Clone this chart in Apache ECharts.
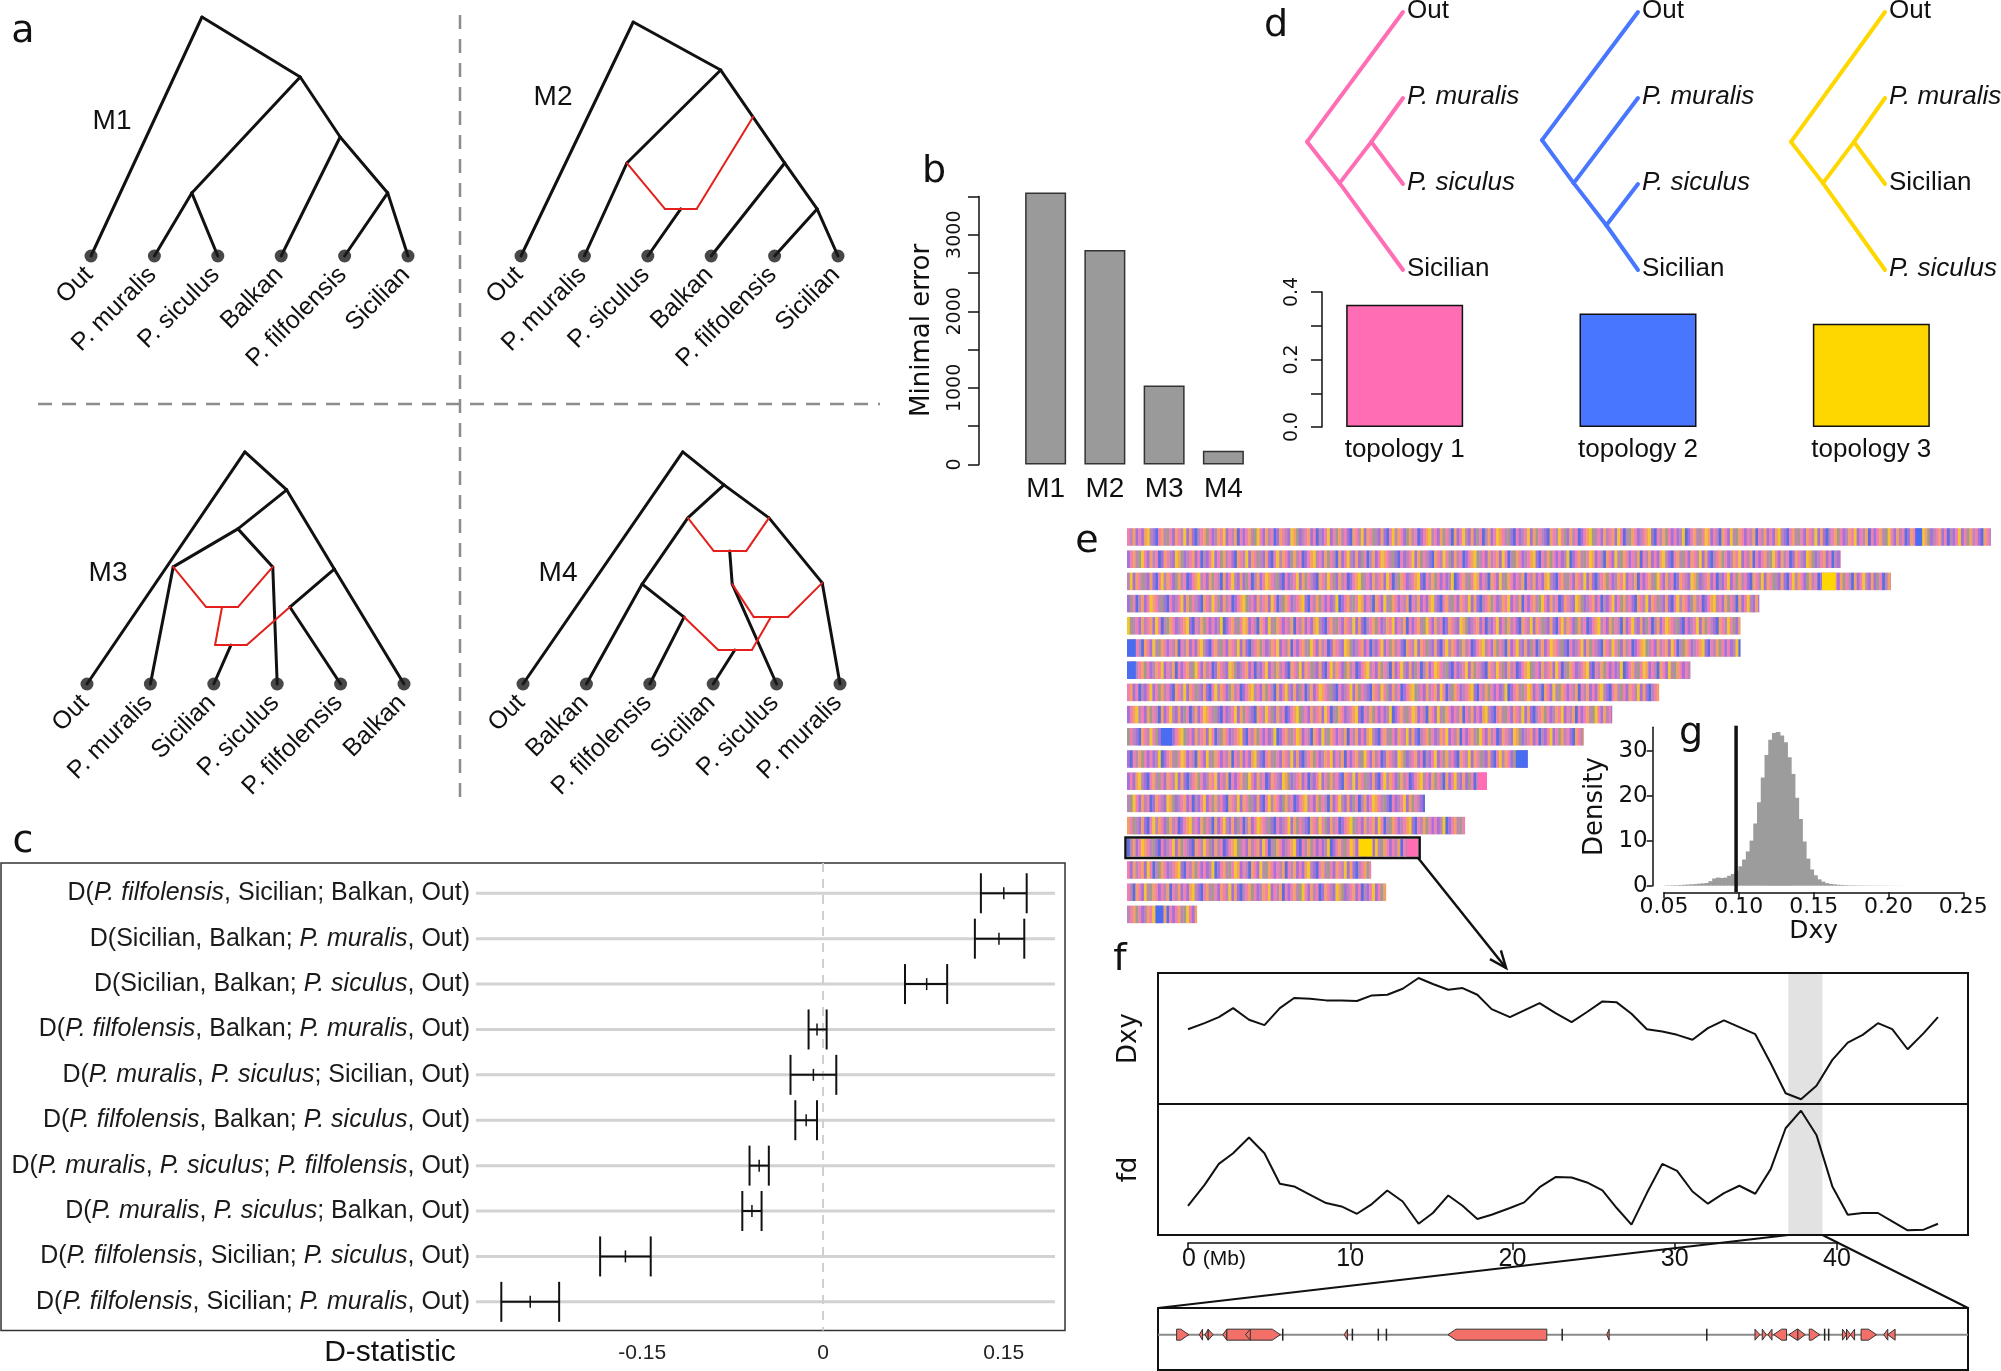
<!DOCTYPE html>
<html><head><meta charset="utf-8">
<script src="https://cdn.jsdelivr.net/npm/echarts@6/dist/echarts.min.js"></script>
<style>html,body{margin:0;padding:0;background:#fff}#c{width:2001px;height:1371px}</style>
</head><body><div id="c"></div>
<script>
// ================= DATA =================
// panel a : four admixture graphs (tips at x = index, y = 0 ; nodes [x, height])
const m1Tips = ['Out','P. muralis','P. siculus','Balkan','P. filfolensis','Sicilian'];
const m1Nodes = {r:[1.75,1.0],A:[3.30,0.749],B:[1.59,0.264],C:[3.93,0.498],D:[4.68,0.264]};
const m1Black = [['r',0],['r','A'],['A','B'],['B',1],['B',2],['A','C'],['C',3],['C','D'],['D',4],['D',5]];
const m1Red = [];

const m2Tips = ['Out','P. muralis','P. siculus','Balkan','P. filfolensis','Sicilian'];
const m2Nodes = {r:[1.77,0.979],A:[3.15,0.778],B:[1.67,0.389],R:[3.66,0.582],C:[4.16,0.389],D:[4.67,0.197],Hl:[2.27,0.197],Hr:[2.77,0.197],Hm:[2.52,0.197]};
const m2Black = [['r',0],['r','A'],['A','B'],['B',1],['A','C'],['C',3],['C','D'],['D',4],['D',5],['Hm',2]];
const m2Red = [['B','Hl'],['Hl','Hr'],['Hr','R']];

const m3Tips = ['Out','P. muralis','Sicilian','P. siculus','P. filfolensis','Balkan'];
const m3Nodes = {r:[2.49,0.971],A:[3.15,0.812],B:[2.38,0.649],P:[1.36,0.490],Q:[2.93,0.490],H1l:[1.88,0.322],H1r:[2.38,0.322],H1m:[2.13,0.322],H2l:[2.02,0.163],H2r:[2.52,0.163],H2m:[2.27,0.163],S:[3.90,0.481],R:[3.20,0.322]};
const m3Black = [['r',0],['r','A'],['A','B'],['B','P'],['B','Q'],['P',1],['Q',3],['A','S'],['S',5],['S','R'],['R',4],['H2m',2]];
const m3Red = [['P','H1l'],['Q','H1r'],['H1l','H1r'],['H1m','H2l'],['H2l','H2r'],['H2r','R']];

const m4Tips = ['Out','Balkan','P. filfolensis','Sicilian','P. siculus','P. muralis'];
const m4Nodes = {r:[2.52,0.971],A:[3.17,0.833],B:[2.60,0.695],C:[3.88,0.695],H1l:[3.01,0.556],H1r:[3.52,0.556],H1m:[3.26,0.556],E:[3.30,0.418],H2l:[3.64,0.280],H2r:[4.18,0.280],H2m:[3.91,0.280],Hn:[4.72,0.423],F:[1.88,0.418],G:[2.54,0.280],H3l:[3.08,0.142],H3r:[3.61,0.142],H3m:[3.34,0.142]};
const m4Black = [['r',0],['r','A'],['A','B'],['A','C'],['B','F'],['F',1],['F','G'],['G',2],['H1m','E'],['E',4],['C','Hn'],['Hn',5],['H3m',3]];
const m4Red = [['B','H1l'],['H1l','H1r'],['H1r','C'],['E','H2l'],['H2l','H2r'],['H2r','Hn'],['H2m','H3r'],['H3l','H3r'],['G','H3l']];

const modelNames = ['M1','M2','M3','M4'];

// panel b
const bCats = ['M1','M2','M3','M4'];
const bVals = [3550, 2800, 1030, 180];

// panel c
const cLabels = [
 'D({i|P. filfolensis}, Sicilian; Balkan, Out)',
 'D(Sicilian, Balkan; {i|P. muralis}, Out)',
 'D(Sicilian, Balkan; {i|P. siculus}, Out)',
 'D({i|P. filfolensis}, Balkan; {i|P. muralis}, Out)',
 'D({i|P. muralis}, {i|P. siculus}; Sicilian, Out)',
 'D({i|P. filfolensis}, Balkan; {i|P. siculus}, Out)',
 'D({i|P. muralis}, {i|P. siculus}; {i|P. filfolensis}, Out)',
 'D({i|P. muralis}, {i|P. siculus}; Balkan, Out)',
 'D({i|P. filfolensis}, Sicilian; {i|P. siculus}, Out)',
 'D({i|P. filfolensis}, Sicilian; {i|P. muralis}, Out)'
];
const cMean = [0.150, 0.146, 0.086, -0.005, -0.008, -0.014, -0.053, -0.059, -0.164, -0.243];
const cLo   = [0.131, 0.126, 0.068, -0.012, -0.027, -0.023, -0.061, -0.067, -0.185, -0.267];
const cHi   = [0.169, 0.167, 0.103,  0.003,  0.011, -0.005, -0.045, -0.051, -0.143, -0.219];
const cTicks = [-0.15, 0, 0.15];

// panel d
const dCats = ['topology 1','topology 2','topology 3'];
const dVals = [0.362, 0.336, 0.306];
const dColors = ['#ff6eb4','#4876ff','#ffd700'];
const d1Tips = ['Out','P. muralis','P. siculus','Sicilian'];
const d1Nodes = {r:[0,1.51],N1:[0.34,1.99],N2:[0.67,1.51]};
const d1Edges = [['r',0],['r','N1'],['N1',3],['N1','N2'],['N2',1],['N2',2]];
const d2Tips = ['Out','P. muralis','P. siculus','Sicilian'];
const d2Nodes = {r:[0,1.49],N1:[0.33,1.99],N2:[0.67,2.48]};
const d2Edges = [['r',0],['r','N1'],['N1',1],['N1','N2'],['N2',2],['N2',3]];
const d3Tips = ['Out','P. muralis','Sicilian','P. siculus'];
const d3Nodes = {r:[0,1.51],N1:[0.34,1.99],N2:[0.67,1.51]};
const d3Edges = [['r',0],['r','N1'],['N1',3],['N1','N2'],['N2',1],['N2',2]];

// panel e : chromosome lengths (Mb), topology stripe code sequence, solid blocks
const eLengths = [138,114,122,101,98,98,90,85,77.5,73,64,57.5,47.6,54,46.5,39,41.4,11.2];
const eSeq = 'PMOVPVOYMVBPOMGPVOPMYVOVBMPOGPVMOPYVPMOBPVPOMGYPVOMPBVOPMVYOGVMPOVPBMVPYVPGOMPVBOPMYVOPGMVOVBPYMOPVGOMPBVPOYMPVOGPMBOVPYMVOVGPBMOVPYOPMGVBPVMPYVOGPMVBOPMYPGVOMPBVPOYGMPVOMPOVYPBMGOPVMPOYVBPMOGPVPVMYBVPOMGPYOVPMBOPVYMGOPVPMOB';
const eColors = {P:'#f07fb2',O:'#f2a066',V:'#a472d8',M:'#bb86b8',B:'#5a6ee2',Y:'#f2c62e',G:'#a39a8c'};
const eBlocks = [[0,125.9,127.0,'B'],[2,111.0,113.2,'Y'],[5,0,1.4,'B'],[6,0,1.4,'B'],[9,5.4,7.2,'B'],[10,62.1,64.0,'B'],[11,56.0,57.5,'P'],[14,37.0,39.2,'Y'],[14,44.7,46.5,'P'],[17,4.6,5.8,'B']];
const eBlockColors = {Y:'#ffd700',P:'#ff6eb4',B:'#4a6cf0'};
const eHighlight = 14;
const eWin = 0.45;

// panel f
const fPos = [0,1.02,1.90,2.78,3.76,4.71,5.66,6.54,7.53,8.51,9.46,10.41,11.33,12.28,13.23,14.21,15.09,16.04,16.92,17.83,18.71,19.84,20.72,21.67,22.65,23.64,24.59,25.54,26.42,27.33,28.28,29.23,30.14,31.09,32.04,33.03,33.98,34.96,35.91,36.83,37.78,38.73,39.71,40.66,41.58,42.52,43.40,44.35,45.34,46.22];
const dxyVals = [0.571,0.617,0.663,0.732,0.643,0.602,0.732,0.809,0.804,0.791,0.791,0.786,0.829,0.834,0.880,0.962,0.916,0.872,0.885,0.834,0.724,0.663,0.714,0.770,0.694,0.625,0.702,0.783,0.776,0.689,0.571,0.554,0.528,0.490,0.579,0.638,0.587,0.533,0.311,0.082,0.036,0.140,0.337,0.469,0.528,0.617,0.571,0.418,0.541,0.663];
const fdVals = [0.223,0.383,0.543,0.624,0.744,0.624,0.391,0.371,0.307,0.244,0.218,0.162,0.236,0.340,0.256,0.086,0.168,0.302,0.223,0.122,0.155,0.206,0.249,0.365,0.442,0.439,0.401,0.340,0.206,0.079,0.320,0.543,0.490,0.332,0.239,0.320,0.376,0.315,0.503,0.815,0.949,0.764,0.371,0.155,0.168,0.168,0.104,0.036,0.041,0.086];
const fBand = [37.0, 39.1];
// genes in the zoomed window (relative position 0-100): [start, end, strand]
const genes = [[2.3,3.8,1],[5.1,5.5,-1],[5.8,6.2,-1],[6.2,6.8,1],[8.0,8.5,-1],[8.5,15.1,1],[10.8,11.4,-1],[15.4,15.7,0],[23.0,23.4,-1],[24.0,24.2,0],[27.2,27.35,0],[28.2,28.35,0],[35.8,48.0,-1],[49.9,50.05,0],[55.4,55.7,-1],[67.75,67.9,0],[73.7,74.3,1],[74.6,75.1,1],[75.3,75.8,-1],[76.0,77.6,-1],[77.9,79.0,-1],[79.0,79.9,1],[80.4,81.7,1],[82.3,82.5,0],[82.8,83.0,0],[84.5,85.0,1],[85.0,85.5,1],[85.5,86.0,-1],[86.8,88.7,1],[89.6,90.1,-1],[90.1,91.0,-1]];

// panel g : Dxy density histogram (bins of 0.0025 starting at 0.05)
const gBinLeft = 0.05, gBinW = 0.0025;
const gDensity = [0.05,0.07,0.1,0.1,0.15,0.2,0.25,0.3,0.35,0.45,
  0.5,0.6,1.0,1.6,1.8,1.7,1.8,2.2,2.6,3.3,
  4.3,5.8,7.6,10.0,13.8,18.5,24,29,32.4,33.9,
  34.1,33.3,31.8,28.5,24.8,19.5,14.8,9.8,6.0,3.6,
  2.3,1.4,0.9,0.55,0.4,0.3,0.22,0.16,0.12,0.1,
  0.08,0.07,0.06,0.05,0.05,0.04,0.04,0.03,0.03,0.03,
  0.02,0.02,0.02,0.01,0.01];
const gLine = 0.0985;
const gYTicks = [0,10,20,30];

// ================= BUILD =================
const FONT = 'Liberation Sans, Arial, sans-serif';
const DV = 'DejaVu Sans, Verdana, sans-serif';
const INK = '#111';
const grids = [], xAxes = [], yAxes = [], series = [];
function addGrid(g, xa, ya){
  const gi = grids.length;
  grids.push(Object.assign({containLabel:false}, g));
  xAxes.push(Object.assign({gridIndex:gi}, xa));
  yAxes.push(Object.assign({gridIndex:gi}, ya));
  return gi;
}
function hv(min, max, extra){ return Object.assign({type:'value', min:min, max:max, show:false}, extra||{}); }

function buildTree(gi, nodes, black, red, tipAt, opt){
  const P = k => (typeof k === 'number') ? tipAt(k) : nodes[k];
  const segs = [];
  black.forEach(e => { const p = P(e[0]), q = P(e[1]); segs.push([p[0],p[1],q[0],q[1],0]); });
  red.forEach(e => { const p = P(e[0]), q = P(e[1]); segs.push([p[0],p[1],q[0],q[1],1]); });
  series.push({type:'custom', xAxisIndex:gi, yAxisIndex:gi, data:segs, encode:{x:[0,2], y:[1,3]}, silent:true, z:2,
    renderItem:(params, api) => {
      const a = api.coord([api.value(0), api.value(1)]), b = api.coord([api.value(2), api.value(3)]);
      const isRed = api.value(4) === 1;
      return {type:'line', shape:{x1:a[0],y1:a[1],x2:b[0],y2:b[1]},
        style:{stroke:isRed ? opt.red : opt.color, lineWidth:isRed ? opt.redWidth : opt.width, lineCap:'round', lineJoin:'round'}};
    }});
}
function tipLabels(gi, tips, tipAt, opt){
  series.push({type:'custom', xAxisIndex:gi, yAxisIndex:gi, silent:true, z:4,
    data: tips.map((t,i) => { const p = tipAt(i); return [p[0], p[1], i]; }),
    renderItem:(params, api) => {
      const i = api.value(2), p = api.coord([api.value(0), api.value(1)]), name = tips[i];
      return {type:'text', x:p[0]+opt.dx, y:p[1]+opt.dy, rotation:opt.rot,
        style:{text:name, fontFamily:FONT, fontSize:opt.size, fontStyle:(opt.italic && name.indexOf('P.')===0) ? 'italic' : 'normal',
          align:opt.align, verticalAlign:'middle', fill:INK}};
    }});
}

// ---- panel a
const aLayout = [[91,17],[521,17],[87,445],[523,445]];
const aTrees = [[m1Tips,m1Nodes,m1Black,m1Red],[m2Tips,m2Nodes,m2Black,m2Red],[m3Tips,m3Nodes,m3Black,m3Red],[m4Tips,m4Nodes,m4Black,m4Red]];
aTrees.forEach((t, k) => {
  const gi = addGrid({left:aLayout[k][0], top:aLayout[k][1], width:317, height:239}, hv(0,5), hv(0,1));
  const tipAt = i => [i, 0];
  buildTree(gi, t[1], t[2], t[3], tipAt, {color:INK, red:'#e3201b', width:3, redWidth:2});
  series.push({type:'scatter', xAxisIndex:gi, yAxisIndex:gi, data:t[0].map((n,i)=>tipAt(i)), symbol:'circle', symbolSize:13, itemStyle:{color:'#1a1a1a'}, silent:true, z:3});
  tipLabels(gi, t[0], tipAt, {dx:-2, dy:15, rot:Math.PI/4, size:25, align:'right', italic:false});
});

// ---- panel b
const gB = addGrid({left:1016, top:196.4, width:237, height:268.1},
  {type:'category', data:bCats, axisLine:{show:false}, axisTick:{show:false}, axisLabel:{fontFamily:FONT, fontSize:28, color:INK, margin:11}},
  {type:'value', min:0, max:3500, interval:500, offset:37, splitLine:{show:false},
   axisLine:{show:true, lineStyle:{color:INK, width:1.5}}, axisTick:{show:true, length:11, lineStyle:{color:INK, width:1.5}},
   axisLabel:{rotate:90, fontFamily:DV, fontSize:19, color:INK, margin:14, formatter:v => (v % 1000 === 0 ? String(v) : '')},
   name:'Minimal error', nameLocation:'middle', nameGap:44, nameTextStyle:{fontFamily:DV, fontSize:26, color:INK}});
series.push({type:'bar', xAxisIndex:gB, yAxisIndex:gB, data:bVals, barWidth:41, clip:false, silent:true,
  itemStyle:{color:'#9a9a9a', borderColor:'#333', borderWidth:1.5}});

// ---- panel d bars
const gDb = addGrid({left:1288, top:292, width:700, height:135},
  {type:'category', data:dCats, axisLine:{show:false}, axisTick:{show:false}, axisLabel:{fontFamily:FONT, fontSize:26, color:INK, margin:10}},
  {type:'value', min:0, max:0.4, interval:0.1, offset:-34, splitLine:{show:false},
   axisLine:{show:true, lineStyle:{color:INK, width:1.5}}, axisTick:{show:true, length:11, lineStyle:{color:INK, width:1.5}},
   axisLabel:{rotate:90, fontFamily:DV, fontSize:19, color:INK, margin:20, formatter:v => (Math.round(v*10) % 2 === 0 ? v.toFixed(1) : '')}});
series.push({type:'bar', xAxisIndex:gDb, yAxisIndex:gDb, barWidth:117, silent:true,
  data:dVals.map((v,i) => ({value:v, itemStyle:{color:dColors[i], borderColor:'#111', borderWidth:1.5}}))});

// ---- panel d trees
const dLayout = [[1307,96],[1542,96],[1791,94]];
[[d1Tips,d1Nodes,d1Edges],[d2Tips,d2Nodes,d2Edges],[d3Tips,d3Nodes,d3Edges]].forEach((t,k) => {
  const gi = addGrid({left:dLayout[k][0], top:12, width:dLayout[k][1], height:258}, hv(0,1), hv(0,3,{inverse:true}));
  const tipAt = i => [1, i];
  buildTree(gi, t[1], t[2], [], tipAt, {color:dColors[k], red:dColors[k], width:4, redWidth:4});
  tipLabels(gi, t[0], tipAt, {dx:4, dy:-1, rot:0, size:26, align:'left', italic:true});
});

// ---- panel c
addGrid({left:1, top:863, width:1064, height:467.5, show:true, borderColor:'#333', borderWidth:1.5}, hv(0,1), hv(0,1));
const cRows = cLabels.map((l,i) => i+1);
const gC = addGrid({left:476, top:863, width:579, height:467.5},
  {type:'value', min:-0.288, max:0.1925, axisLine:{show:false}, axisTick:{show:false}, splitLine:{show:false},
   axisLabel:{customValues:cTicks, fontFamily:FONT, fontSize:21, color:'#222', margin:12, formatter:v => (v === 0 ? '0' : v.toFixed(2))}},
  {type:'value', min:0.333, max:10.632, inverse:true, axisLine:{show:false}, axisTick:{show:false}, splitLine:{show:false},
   axisLabel:{customValues:cRows, fontFamily:FONT, fontSize:25, color:'#1a1a1a', margin:6,
     formatter:v => cLabels[Math.round(v)-1] || '',
     rich:{i:{fontFamily:FONT, fontSize:25, fontStyle:'italic', color:'#1a1a1a'}}}});
series.push({type:'custom', xAxisIndex:gC, yAxisIndex:gC, silent:true, z:1, data:cRows.map(r => [0, r]),
  renderItem:(params, api) => { const cs = params.coordSys; const y = api.coord([0, api.value(1)])[1];
    return {type:'line', shape:{x1:cs.x, y1:y, x2:cs.x+cs.width, y2:y}, style:{stroke:'#d2d2d2', lineWidth:3}}; }});
series.push({type:'custom', xAxisIndex:gC, yAxisIndex:gC, silent:true, z:1, data:[[0, 1]],
  renderItem:(params, api) => { const cs = params.coordSys; const x = api.coord([api.value(0), 1])[0];
    return {type:'line', shape:{x1:x, y1:cs.y, x2:x, y2:cs.y+cs.height}, style:{stroke:'#cfcfcf', lineWidth:2, lineDash:[9,7]}}; }});
series.push({type:'custom', xAxisIndex:gC, yAxisIndex:gC, silent:true, z:3,
  data:cRows.map((r,i) => [cMean[i], r, cLo[i], cHi[i]]),
  renderItem:(params, api) => {
    const r = api.value(1);
    const m = api.coord([api.value(0), r]), lo = api.coord([api.value(2), r]), hi = api.coord([api.value(3), r]);
    const y = m[1], st = {stroke:INK, lineWidth:2};
    return {type:'group', children:[
      {type:'line', shape:{x1:lo[0], y1:y, x2:hi[0], y2:y}, style:st},
      {type:'line', shape:{x1:lo[0], y1:y-20, x2:lo[0], y2:y+20}, style:st},
      {type:'line', shape:{x1:hi[0], y1:y-20, x2:hi[0], y2:y+20}, style:st},
      {type:'line', shape:{x1:m[0], y1:y-6, x2:m[0], y2:y+6}, style:{stroke:INK, lineWidth:1.5}}
    ]};
  }});

// ---- panel e
const gE = addGrid({left:1127, top:525.9, width:864, height:399.6}, hv(0,138),
  {type:'category', data:eLengths.map((l,i) => i), inverse:true, show:false});
series.push({type:'custom', xAxisIndex:gE, yAxisIndex:gE, silent:true, z:2,
  data:eLengths.map((L,i) => [L, i]),
  renderItem:(params, api) => {
    const L = api.value(0), i = api.value(1);
    const c0 = api.coord([0, i]); const h = api.size([0, 1])[1] * 0.79; const y0 = c0[1] - h/2;
    const children = []; const n = eSeq.length, off = i * 41; const nw = Math.ceil(L / eWin);
    let runStart = 0, runCol = null;
    for (let j = 0; j <= nw; j++) {
      const col = j < nw ? eColors[eSeq[(j + off) % n]] : null;
      if (col !== runCol) {
        if (runCol !== null) {
          const xa = api.coord([runStart * eWin, i])[0], xb = api.coord([Math.min(j * eWin, L), i])[0];
          children.push({type:'rect', shape:{x:xa, y:y0, width:xb - xa + (j < nw ? 0.4 : 0), height:h}, style:{fill:runCol}});
        }
        runStart = j; runCol = col;
      }
    }
    eBlocks.forEach(b => { if (b[0] === i) {
      const xa = api.coord([b[1], i])[0], xb = api.coord([b[2], i])[0];
      children.push({type:'rect', shape:{x:xa, y:y0, width:xb - xa, height:h}, style:{fill:eBlockColors[b[3]]}});
    }});
    if (i === eHighlight) {
      const xb = api.coord([L, i])[0];
      children.push({type:'rect', shape:{x:c0[0]-1.5, y:y0-1.5, width:xb - c0[0] + 3, height:h + 3}, style:{fill:'none', stroke:INK, lineWidth:2.5}});
    }
    return {type:'group', children:children};
  }});

// ---- panel f
const fAxisY = name => ({type:'value', min:0, max:1, name:name, nameLocation:'middle', nameGap:16,
  nameTextStyle:{fontFamily:DV, fontSize:26, color:INK}, axisLine:{show:false}, axisTick:{show:false}, axisLabel:{show:false}, splitLine:{show:false}});
const gDxy = addGrid({left:1158, top:973, width:810, height:131, show:true, borderColor:INK, borderWidth:2}, hv(-1.85, 48.07), fAxisY('Dxy'));
const gFd = addGrid({left:1158, top:1104, width:810, height:131, show:true, borderColor:INK, borderWidth:2}, hv(-1.85, 48.07), fAxisY('fd'));
[[gDxy, dxyVals],[gFd, fdVals]].forEach(pair => {
  const gi = pair[0];
  series.push({type:'custom', xAxisIndex:gi, yAxisIndex:gi, silent:true, z:1, data:[fBand],
    renderItem:(params, api) => { const cs = params.coordSys; const a = api.coord([api.value(0), 0])[0], b = api.coord([api.value(1), 0])[0];
      return {type:'rect', shape:{x:a, y:cs.y+1, width:b - a, height:cs.height-2}, style:{fill:'#e2e2e2'}}; }});
  series.push({type:'line', xAxisIndex:gi, yAxisIndex:gi, silent:true, z:3, symbol:'none', showSymbol:false,
    data:fPos.map((x,i) => [x, pair[1][i]]), lineStyle:{color:INK, width:2}});
});
addGrid({left:1188, top:1242, width:649, height:1},
  {type:'value', min:0, max:40, interval:10, splitLine:{show:false},
   axisLine:{show:true, lineStyle:{color:INK, width:1.5}}, axisTick:{show:true, length:7, lineStyle:{color:INK, width:1.5}},
   axisLabel:{fontFamily:FONT, fontSize:25, color:INK, margin:4,
     formatter:v => (v === 0 ? '{p| }0 {s|(Mb)}' : String(v)),
     rich:{p:{width:52}, s:{fontFamily:FONT, fontSize:21, color:INK}}}},
  hv(0,1));
const gGene = addGrid({left:1158, top:1308, width:810, height:62, show:true, borderColor:INK, borderWidth:2}, hv(0,100), hv(0,1));
series.push({type:'custom', xAxisIndex:gGene, yAxisIndex:gGene, silent:true, z:1, data:[[0, 0.57]],
  renderItem:(params, api) => { const cs = params.coordSys; const y = api.coord([0, api.value(1)])[1];
    return {type:'line', shape:{x1:cs.x, y1:y, x2:cs.x+cs.width, y2:y}, style:{stroke:'#8a8a8a', lineWidth:2}}; }});
series.push({type:'custom', xAxisIndex:gGene, yAxisIndex:gGene, silent:true, z:2, data:genes,
  renderItem:(params, api) => {
    const s = api.coord([api.value(0), 0.57]), e = api.coord([api.value(1), 0.57]), strand = api.value(2);
    const y = s[1], hh = 5.5;
    if (strand === 0) return {type:'line', shape:{x1:s[0], y1:y-6, x2:s[0], y2:y+6}, style:{stroke:'#222', lineWidth:1.5}};
    const w = e[0] - s[0], head = Math.min(8, w);
    let pts;
    if (strand > 0) pts = [[s[0],y-hh],[e[0]-head,y-hh],[e[0],y],[e[0]-head,y+hh],[s[0],y+hh]];
    else pts = [[e[0],y-hh],[s[0]+head,y-hh],[s[0],y],[s[0]+head,y+hh],[e[0],y+hh]];
    return {type:'polygon', shape:{points:pts}, style:{fill:'#f27068', stroke:'#333', lineWidth:1}};
  }});

// ---- panel g
const gH = addGrid({left:1652.5, top:725.7, width:315.5, height:166.6}, hv(0.0426, 0.2536), hv(-1.47, 35.5));
series.push({type:'custom', xAxisIndex:gH, yAxisIndex:gH, silent:true, z:2,
  data:gDensity.map((d,i) => [gBinLeft + i*gBinW, gBinLeft + (i+1)*gBinW, d]),
  renderItem:(params, api) => { const a = api.coord([api.value(0), api.value(2)]), b = api.coord([api.value(1), 0]);
    return {type:'rect', shape:{x:a[0], y:a[1], width:b[0]-a[0]+1, height:b[1]-a[1]}, style:{fill:'#9c9c9c'}}; }});
series.push({type:'custom', xAxisIndex:gH, yAxisIndex:gH, silent:true, z:3, data:[[gLine, 0]],
  renderItem:(params, api) => { const cs = params.coordSys; const x = api.coord([api.value(0), 0])[0];
    return {type:'line', shape:{x1:x, y1:cs.y, x2:x, y2:cs.y+cs.height}, style:{stroke:INK, lineWidth:3.5}}; }});
addGrid({left:1664, top:891.3, width:299.3, height:1},
  {type:'value', min:0.05, max:0.25, interval:0.05, splitLine:{show:false},
   axisLine:{show:true, lineStyle:{color:INK, width:1.5}}, axisTick:{show:true, length:6, lineStyle:{color:INK, width:1.5}},
   axisLabel:{fontFamily:DV, fontSize:22, color:INK, margin:4, formatter:v => v.toFixed(2)},
   name:'Dxy', nameLocation:'middle', nameGap:27, nameTextStyle:{fontFamily:DV, fontSize:25, color:INK}},
  hv(0,1));
addGrid({left:1652.7, top:727.3, width:1, height:158.4}, hv(0,1),
  {type:'value', min:0, max:35.2, splitLine:{show:false},
   axisLine:{show:true, lineStyle:{color:INK, width:1.5}},
   axisTick:{show:true, length:6, customValues:gYTicks, lineStyle:{color:INK, width:1.5}},
   axisLabel:{fontFamily:DV, fontSize:23, color:INK, margin:5, customValues:gYTicks, formatter:v => (v % 10 === 0 ? String(v) : '')},
   name:'Density', nameLocation:'middle', nameGap:44, nameTextStyle:{fontFamily:DV, fontSize:26, color:INK}});

// ---- decorations (text, separators)
const graphics = [];
const txt = (id, x, y, text, size, family, extra) => graphics.push({type:'text', id:id, x:x, y:y, silent:true,
  style:Object.assign({text:text, fontSize:size, fontFamily:family, fill:INK, align:'center', verticalAlign:'middle'}, extra||{})});
graphics.push({type:'line', id:'sepV', silent:true, shape:{x1:460, y1:15, x2:460, y2:805}, style:{stroke:'#8c8c8c', lineWidth:2.5, lineDash:[14,10]}});
graphics.push({type:'line', id:'sepH', silent:true, shape:{x1:38, y1:404, x2:880, y2:404}, style:{stroke:'#8c8c8c', lineWidth:2.5, lineDash:[14,10]}});
[[112,121],[553,97],[108,573],[558,573]].forEach((p,k) => txt('ml'+k, p[0], p[1], modelNames[k], 28, FONT));
[['a',23,32],['b',934,172],['c',23,842],['d',1276,26],['e',1087,542],['f',1120,960],['g',1691,734]].forEach(l => txt('pl'+l[0], l[1], l[2], l[0], 38, DV));
txt('dstat', 390, 1353, 'D-statistic', 30, FONT);

const option = {animation:false, backgroundColor:'#fff', textStyle:{fontFamily:FONT},
  grid:grids, xAxis:xAxes, yAxis:yAxes, series:series, graphic:{elements:graphics}};
const chart = echarts.init(document.getElementById('c'), null, {width:2001, height:1371});
chart.setOption(option);

// ---- connectors derived from the axes
const ps = chart.convertToPixel({gridIndex:gE}, [eLengths[eHighlight], eHighlight]);
const rowH = 399.6 / eLengths.length * 0.79;
const aS = [ps[0], ps[1] + rowH/2 + 1.5];
const pe = chart.convertToPixel({gridIndex:gDxy}, [19.6, 1]);
const aE = [pe[0], pe[1] - 5];
const dx = aE[0]-aS[0], dy = aE[1]-aS[1], len = Math.sqrt(dx*dx+dy*dy), ux = dx/len, uy = dy/len;
const hl = 17, hw = 7;
const z0 = chart.convertToPixel({gridIndex:gFd}, [fBand[0], 0]);
const z1 = chart.convertToPixel({gridIndex:gFd}, [fBand[1], 0]);
const g0 = chart.convertToPixel({gridIndex:gGene}, [0, 1]);
const g1 = chart.convertToPixel({gridIndex:gGene}, [100, 1]);
chart.setOption({graphic:{elements:[
  {type:'line', id:'arrow', silent:true, shape:{x1:aS[0], y1:aS[1], x2:aE[0], y2:aE[1]}, style:{stroke:INK, lineWidth:2.5}},
  {type:'polyline', id:'arrowHead', silent:true, shape:{points:[[aE[0]-hl*ux-hw*uy, aE[1]-hl*uy+hw*ux],[aE[0],aE[1]],[aE[0]-hl*ux+hw*uy, aE[1]-hl*uy-hw*ux]]}, style:{stroke:INK, lineWidth:2.5, fill:'none'}},
  {type:'line', id:'zoomL', silent:true, shape:{x1:z0[0], y1:z0[1], x2:g0[0], y2:g0[1]}, style:{stroke:INK, lineWidth:2}},
  {type:'line', id:'zoomR', silent:true, shape:{x1:z1[0], y1:z1[1], x2:g1[0], y2:g1[1]}, style:{stroke:INK, lineWidth:2}}
]}});
</script></body></html>
